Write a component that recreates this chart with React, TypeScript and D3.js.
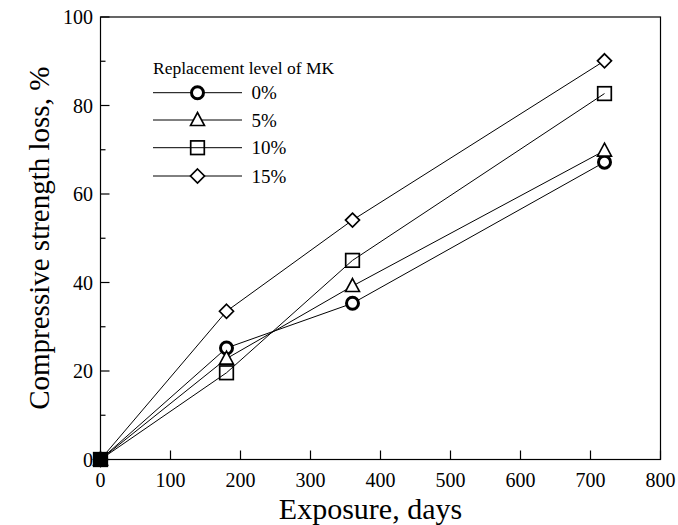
import React from "react";
import * as d3 from "d3";

const days = [0, 180, 360, 720];
const seriesNames = ["0%", "5%", "10%", "15%"];
const loss0 = [0, 25.2, 35.3, 67.2];
const loss5 = [0, 22.8, 39.2, 69.8];
const loss10 = [0, 19.6, 45.0, 82.7];
const loss15 = [0, 33.5, 54.1, 90.1];
const xTicks = [0, 100, 200, 300, 400, 500, 600, 700, 800];
const yTicks = [0, 20, 40, 60, 80, 100];
const yMinorTicks = [10, 30, 50, 70, 90];
const legendTitle = "Replacement level of MK";
const xTitle = "Exposure, days";
const yTitle = "Compressive strength loss, %";

const W = 678, H = 525;
const L = 100.5, R = 660.5, T = 17, B = 459.5;
const font = "'Liberation Serif', 'Times New Roman', serif";

function Marker({ kind, x, y, filled }: { kind: number; x: number; y: number; filled?: boolean }) {
  const fill = filled ? "black" : "white";
  if (kind === 0) return <circle cx={x} cy={y} r={6} fill={fill} stroke="black" strokeWidth={3} />;
  if (kind === 1) return <path d={`M${x},${y - 7.5} L${x + 7},${y + 5.5} L${x - 7},${y + 5.5} Z`} fill={fill} stroke="black" strokeWidth={1.6} />;
  if (kind === 2) return <rect x={x - 6.8} y={y - 6.8} width={13.6} height={13.6} fill={filled ? "black" : "none"} stroke="black" strokeWidth={1.7} />;
  return <path d={`M${x},${y - 7} L${x + 7},${y} L${x},${y + 7} L${x - 7},${y} Z`} fill={fill} stroke="black" strokeWidth={1.7} />;
}

export default function App() {
  const x = d3.scaleLinear().domain([0, 800]).range([L, R]);
  const y = d3.scaleLinear().domain([0, 100]).range([B, T]);
  const series = [loss0, loss5, loss10, loss15];
  const line = d3.line<[number, number]>().x(d => x(d[0])).y(d => y(d[1]));
  const legX0 = 153, legX1 = 242, legMx = 197.5, legTextX = 251.5;
  const legYs = [92.7, 120, 147.7, 176];
  return (
    <svg width={W} height={H} style={{ position: "absolute", left: 0, top: 0, background: "white" }} fontFamily={font}>
      <rect x={0} y={0} width={W} height={H} fill="white" />
      {/* frame */}
      <rect x={L} y={T} width={R - L} height={B - T} fill="none" stroke="black" strokeWidth={1.2} />
      {/* x ticks */}
      {xTicks.map(t => (
        <g key={"x" + t}>
          <line x1={x(t)} x2={x(t)} y1={B} y2={B - 9} stroke="black" strokeWidth={1.2} />
          <text x={x(t)} y={B + 27} textAnchor="middle" fontSize={20}>{t}</text>
        </g>
      ))}
      {/* y ticks */}
      {yTicks.map(t => (
        <g key={"y" + t}>
          <line x1={L} x2={L + 9} y1={y(t)} y2={y(t)} stroke="black" strokeWidth={1.2} />
          <text x={L - 7.5} y={y(t) + 7} textAnchor="end" fontSize={20}>{t}</text>
        </g>
      ))}
      {yMinorTicks.map(t => (
        <line key={"ym" + t} x1={L} x2={L + 5} y1={y(t)} y2={y(t)} stroke="black" strokeWidth={1.2} />
      ))}
      {/* lines */}
      {series.map((s, i) => (
        <path key={"l" + i} d={line(days.map((d, j) => [d, s[j]] as [number, number])) || ""} fill="none" stroke="black" strokeWidth={1} />
      ))}
      {/* markers */}
      {series.map((s, i) => s.map((v, j) => <Marker key={`m${i}-${j}`} kind={i} x={x(days[j])} y={y(v)} filled={v === 0} />))}
      {/* legend */}
      <text x={legX0} y={74} fontSize={17.5}>{legendTitle}</text>
      {seriesNames.map((n, i) => (
        <g key={"lg" + i}>
          <line x1={legX0} x2={legX1} y1={legYs[i]} y2={legYs[i]} stroke="black" strokeWidth={1} />
          <Marker kind={i} x={legMx} y={legYs[i]} />
          <text x={legTextX} y={legYs[i] + 6.6} fontSize={19}>{n}</text>
        </g>
      ))}
      {/* axis titles */}
      <text x={(L + R) / 2 - 10} y={519} textAnchor="middle" fontSize={30}>{xTitle}</text>
      <text transform={`translate(49, ${(T + B) / 2}) rotate(-90)`} textAnchor="middle" fontSize={29}>{yTitle}</text>
    </svg>
  );
}
